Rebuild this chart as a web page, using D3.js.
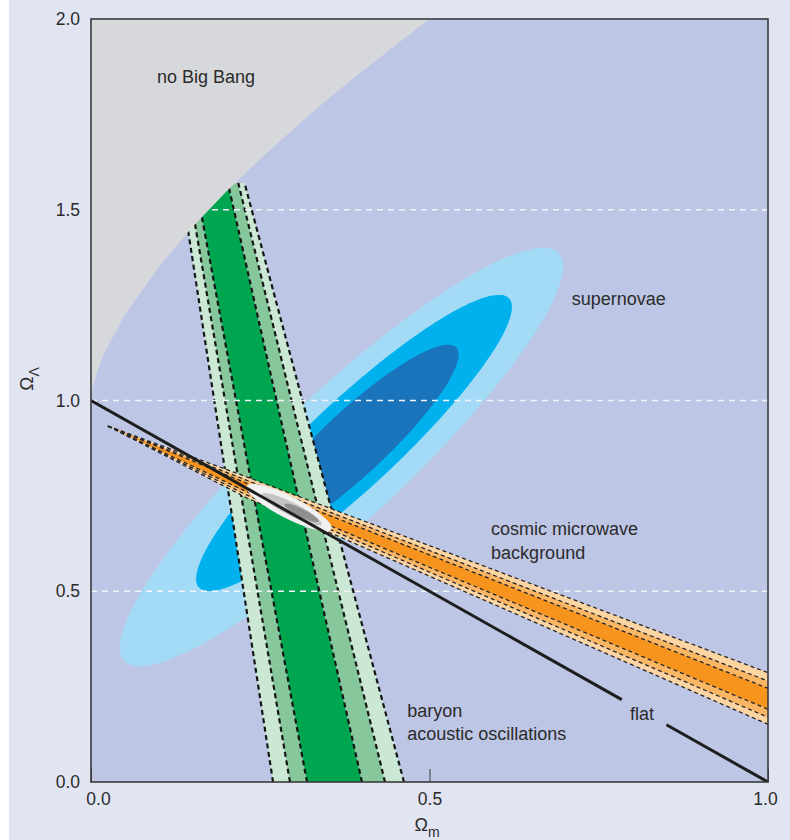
<!DOCTYPE html>
<meta charset="utf-8">
<style>
body { margin: 0; background: #fff; }
text { font-family: "Liberation Sans", Arial, sans-serif; fill: #2b2b2b; }
</style>
<body>
<script src="https://cdn.jsdelivr.net/npm/d3@7"></script>
<script>

var width = 790, height = 840;
var margin = {left: 91, right: 22, top: 19, bottom: 58};

// axis ticks
var xTicks = [0, 0.5, 1.0];
var yTicks = [0, 0.5, 1.0, 1.5, 2.0];
var gridLevels = [0.5, 1.0, 1.5];

// edge of the "no Big Bang" region
var nbbOm = [0, 0.001, 0.005, 0.01, 0.02, 0.05, 0.1, 0.15, 0.2, 0.25, 0.3, 0.35, 0.4, 0.45, 0.5];
var nbbOL = [1.0, 1.017, 1.05, 1.08, 1.125, 1.225, 1.35, 1.455, 1.548, 1.633, 1.713, 1.79, 1.862, 1.932, 2.0];

// supernovae contours (outer -> inner): centre, half major axis, half minor axis
var snCentre = [[0.370, 0.852], [0.3885, 0.8886], [0.3885, 0.8886]];
var snMajor  = [[0.3208, 0.5347], [0.229, 0.379], [0.1512, 0.2503]];
var snMinor  = [[0.0652, -0.1232], [0.0443, -0.0844], [0.0322, -0.0613]];

// baryon acoustic oscillations: Omega_m of each boundary at Omega_L = 0 and at the top
var baoTopOL = 1.57;
var baoAtBottom = [0.2689, 0.2939, 0.3191, 0.4003, 0.4343, 0.4623];
var baoAtTop    = [0.1326, 0.1433, 0.1544, 0.2022, 0.2175, 0.2268];

// cosmic microwave background: Omega_L of each boundary at these Omega_m
var cmbOm = [0.025, 0.2304, 0.3677, 1.0];
var cmbOL = [
  [0.933, 0.7995, 0.7077, 0.2865],
  [0.933, 0.7906, 0.6972, 0.2647],
  [0.933, 0.7829, 0.6879, 0.2456],
  [0.933, 0.7604, 0.6613, 0.1906],
  [0.933, 0.7519, 0.6511, 0.1696],
  [0.933, 0.7444, 0.6422, 0.1512]
];

// combined CMB + BAO contours (outer -> inner)
var combCentre = [[0.2925, 0.7195], [0.2965, 0.7150], [0.3110, 0.7055]];
var combMajor  = [[0.0625, -0.0565], [0.0440, -0.0395], [0.0250, -0.0225]];
var combMinor  = [[-0.0074, -0.0257], [-0.0044, -0.0152], [-0.0026, -0.0092]];

// flat universe, Omega_m + Omega_L = 1, broken where the label sits
var flatPieces = [[0, 0.784], [0.85, 1.0]];

// labels
var labelText = [["no Big Bang"], ["supernovae"], ["cosmic microwave", "background"],
                 ["baryon", "acoustic oscillations"], ["flat"]];
var labelAt = [[0.0975, 1.832], [0.710, 1.250], [0.591, 0.6467], [0.467, 0.171], [0.796, 0.1625]];

var snColor = ["#a3dbf7", "#00b1ee", "#1a74bc"];
var baoColor = ["#cbe8d5", "#86c89c", "#00a550", "#86c89c", "#cbe8d5"];
var cmbColor = ["#fdd5a2", "#fbb664", "#f7941d", "#fbb664", "#fdd5a2"];
var combColor = ["#f1f1f1", "#c4c4c4", "#8f8f8f"];

var x = d3.scaleLinear().domain([0, 1]).range([margin.left, width - margin.right]);
var y = d3.scaleLinear().domain([0, 2]).range([height - margin.bottom, margin.top]);

var svg = d3.select("body").append("svg")
    .attr("width", width)
    .attr("height", height);

svg.append("rect")
    .attr("x", 9).attr("y", 0)
    .attr("width", width - 9).attr("height", height)
    .attr("fill", "#e1e5f2");

svg.append("clipPath").attr("id", "plotclip")
  .append("rect")
    .attr("x", x(0)).attr("y", y(2))
    .attr("width", x(1) - x(0)).attr("height", y(0) - y(2));

var plot = svg.append("g").attr("clip-path", "url(#plotclip)");

plot.append("rect")
    .attr("x", x(0)).attr("y", y(2))
    .attr("width", x(1) - x(0)).attr("height", y(0) - y(2))
    .attr("fill", "#bec6e6");

var line = d3.line().x(function(d) { return x(d[0]); }).y(function(d) { return y(d[1]); });

function ellipse(c, a, b) {
  var pts = [];
  for (var i = 0; i < 180; i++) {
    var t = i / 180 * 2 * Math.PI;
    pts.push([c[0] + a[0] * Math.cos(t) + b[0] * Math.sin(t),
              c[1] + a[1] * Math.cos(t) + b[1] * Math.sin(t)]);
  }
  return line(pts) + "Z";
}

// supernovae
plot.selectAll(".sn")
  .data(snCentre)
  .enter().append("path")
    .attr("class", "sn")
    .attr("d", function(d, i) { return ellipse(d, snMajor[i], snMinor[i]); })
    .attr("fill", function(d, i) { return snColor[i]; });

// baryon acoustic oscillations
plot.selectAll(".bao")
  .data(baoColor)
  .enter().append("path")
    .attr("class", "bao")
    .attr("d", function(d, i) {
      return line([[baoAtBottom[i], 0], [baoAtTop[i], baoTopOL],
                   [baoAtTop[i + 1], baoTopOL], [baoAtBottom[i + 1], 0]]) + "Z";
    })
    .attr("fill", function(d) { return d; });

plot.selectAll(".baoline")
  .data(baoAtBottom)
  .enter().append("path")
    .attr("class", "baoline")
    .attr("d", function(d, i) { return line([[d, 0], [baoAtTop[i], baoTopOL]]); })
    .attr("fill", "none")
    .attr("stroke", "#151515")
    .attr("stroke-width", 2.2)
    .attr("stroke-dasharray", "5,3.5");

// grid lines
plot.selectAll(".grid")
  .data(gridLevels)
  .enter().append("line")
    .attr("class", "grid")
    .attr("x1", x(0)).attr("x2", x(1))
    .attr("y1", function(d) { return y(d); })
    .attr("y2", function(d) { return y(d); })
    .attr("stroke", "#f3f4fa")
    .attr("stroke-width", 1.3)
    .attr("stroke-dasharray", "6,5");

// cosmic microwave background
function cmbEdge(k) {
  return cmbOm.map(function(m, j) { return [m, cmbOL[k][j]]; });
}
plot.selectAll(".cmb")
  .data(cmbColor)
  .enter().append("path")
    .attr("class", "cmb")
    .attr("d", function(d, i) {
      return line(cmbEdge(i).concat(cmbEdge(i + 1).reverse())) + "Z";
    })
    .attr("fill", function(d) { return d; });

plot.selectAll(".cmbline")
  .data(cmbOL)
  .enter().append("path")
    .attr("class", "cmbline")
    .attr("d", function(d, i) { return line(cmbEdge(i)); })
    .attr("fill", "none")
    .attr("stroke", "#262626")
    .attr("stroke-width", 1.3)
    .attr("stroke-dasharray", "4,3");

// no Big Bang
var nbb = nbbOm.map(function(d, i) { return [d, nbbOL[i]]; });
nbb.push([0, 2]);
plot.append("path")
    .attr("d", line(nbb) + "Z")
    .attr("fill", "#d7d8dc");

// combined CMB + BAO
plot.selectAll(".comb")
  .data(combCentre)
  .enter().append("path")
    .attr("class", "comb")
    .attr("d", function(d, i) { return ellipse(d, combMajor[i], combMinor[i]); })
    .attr("fill", function(d, i) { return combColor[i]; });

// flat
plot.selectAll(".flat")
  .data(flatPieces)
  .enter().append("path")
    .attr("class", "flat")
    .attr("d", function(d) { return line([[d[0], 1 - d[0]], [d[1], 1 - d[1]]]); })
    .attr("stroke", "#1e1e1e")
    .attr("stroke-width", 3)
    .attr("fill", "none");

// frame
svg.append("rect")
    .attr("x", x(0)).attr("y", y(2))
    .attr("width", x(1) - x(0)).attr("height", y(0) - y(2))
    .attr("fill", "none")
    .attr("stroke", "#3a3a3a")
    .attr("stroke-width", 1.6);

// axes
var xAxis = svg.append("g")
    .attr("transform", "translate(0," + y(0) + ")")
    .call(d3.axisBottom(x).tickValues(xTicks).tickFormat(d3.format(".1f"))
      .tickSizeInner(-13).tickSizeOuter(0).tickPadding(11));
xAxis.select(".domain").remove();
xAxis.selectAll("line").attr("stroke", "#3a3a3a");
xAxis.selectAll("text")
    .style("font-size", "17.5px")
    .attr("dx", function(d) { return d === 0 ? 7 : (d === 1 ? -3 : 0); });

var yAxis = svg.append("g")
    .attr("transform", "translate(" + x(0) + ",0)")
    .call(d3.axisLeft(y).tickValues(yTicks).tickFormat(d3.format(".1f"))
      .tickSize(0).tickPadding(11));
yAxis.select(".domain").remove();
yAxis.selectAll("text").style("font-size", "17.5px");

svg.selectAll(".tick text").attr("fill", "#2b2b2b").style("font-family", "Liberation Sans, Arial, sans-serif");

// axis titles
var xt = svg.append("text")
    .attr("x", 427).attr("y", 831)
    .attr("text-anchor", "middle")
    .style("font-size", "18px");
xt.append("tspan").text("Ω");
xt.append("tspan").text("m").attr("dy", 6).style("font-size", "14px");

var yt = svg.append("text")
    .attr("transform", "translate(33,379) rotate(-90)")
    .attr("text-anchor", "middle")
    .style("font-size", "19px");
yt.append("tspan").text("Ω");
yt.append("tspan").text("Λ").attr("dy", 6).style("font-size", "14px");

// labels
labelText.forEach(function(lines, i) {
  var t = svg.append("text")
      .attr("x", x(labelAt[i][0]))
      .attr("y", y(labelAt[i][1]))
      .style("font-size", "18px");
  lines.forEach(function(s, j) {
    t.append("tspan")
        .attr("x", x(labelAt[i][0]))
        .attr("dy", j === 0 ? 0 : 23.4)
        .text(s);
  });
});

</script>
</body>
</html>
